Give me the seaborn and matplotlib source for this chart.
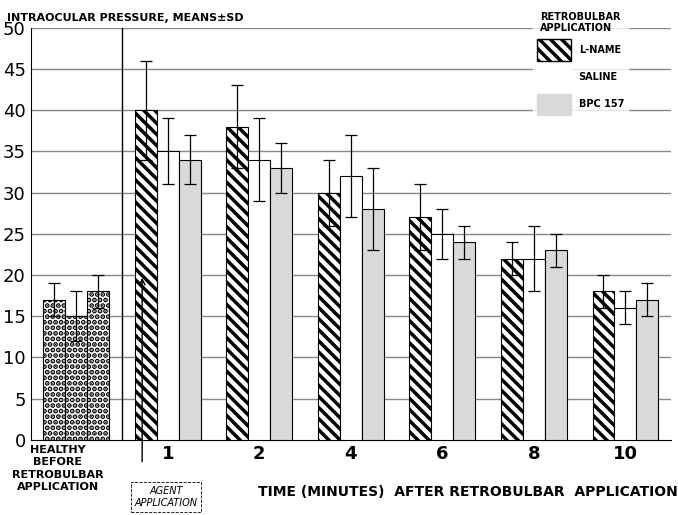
import matplotlib
matplotlib.use("Agg")
import matplotlib.pyplot as plt
import seaborn as sns
import pandas as pd
import numpy as np
from matplotlib.patches import Patch

plt.rcParams["hatch.linewidth"] = 2.5

groups = ["H", "1", "2", "4", "6", "8", "10"]
series = ["L-NAME", "SALINE", "BPC 157"]
lname = [17, 40, 38, 30, 27, 22, 18]
saline = [15, 35, 34, 32, 25, 22, 16]
bpc = [18, 34, 33, 28, 24, 23, 17]
lname_sd = [2, 6, 5, 4, 4, 2, 2]
saline_sd = [3, 4, 5, 5, 3, 4, 2]
bpc_sd = [2, 3, 3, 5, 2, 2, 2]
xticklabels = ["", "1", "2", "4", "6", "8", "10"]

rows = []
for s, vals in zip(series, [lname, saline, bpc]):
    for g, v in zip(groups, vals):
        rows.append(dict(group=g, series=s, value=v))
df = pd.DataFrame(rows)

fig = plt.figure(figsize=(6.78, 5.15), dpi=100)
ax = fig.add_axes([0.045, 0.146, 0.945, 0.8])
sns.barplot(data=df, x="group", y="value", hue="series", order=groups, hue_order=series,
            palette={"L-NAME": "white", "SALINE": "white", "BPC 157": "#d9d9d9"},
            edgecolor="black", linewidth=0.8, width=0.72, errorbar=None, legend=False, ax=ax, zorder=3)

sds = [lname_sd, saline_sd, bpc_sd]
bar_conts = list(ax.containers)
for k, cont in enumerate(bar_conts):
    for i, p in enumerate(cont.patches):
        if i == 0:
            p.set_hatch("...")
            p.set_facecolor("white")
        elif k == 0:
            p.set_hatch("\\\\\\")
        xc = p.get_x() + p.get_width() / 2
        ax.errorbar(xc, p.get_height(), yerr=sds[k][i], color="black", capsize=4,
                    elinewidth=0.9, capthick=0.9, zorder=4)

ax.set_ylim(0, 50)
ax.set_xlim(-0.5, 6.5)
ax.set_yticks(range(0, 51, 5))
ax.tick_params(axis="y", labelsize=13, length=0)
ax.set_xticks(range(7))
ax.set_xticklabels(xticklabels, fontsize=13, fontweight="bold")
ax.tick_params(axis="x", length=0)
for y in range(5, 51, 5):
    ax.axhline(y, color="#888888", lw=1, zorder=1)
for sp in ["top", "right"]:
    ax.spines[sp].set_visible(False)
ax.axvline(0.5, color="black", lw=1)
ax.set_xlabel("")
ax.set_ylabel("")
ax.annotate("", xy=(0.72, 20), xytext=(0.72, -3), xycoords="data",
            arrowprops=dict(arrowstyle="->", color="black", lw=1), annotation_clip=False)
fig.text(0.01, 0.965, "INTRAOCULAR PRESSURE, MEANS±SD", fontsize=8, fontweight="bold", va="center")
fig.text(0.085, 0.09, "HEALTHY\nBEFORE\nRETROBULBAR\nAPPLICATION", fontsize=8, fontweight="bold",
         ha="center", va="center", linespacing=1.3)
fig.text(0.245, 0.035, "AGENT\nAPPLICATION", fontsize=7, fontstyle="italic", ha="center", va="center",
         bbox=dict(boxstyle="square,pad=0.4", fc="white", ec="black", ls="--", lw=0.6))
fig.text(0.69, 0.045, "TIME (MINUTES)  AFTER RETROBULBAR  APPLICATION", fontsize=10,
         fontweight="bold", ha="center", va="center")

handles = [Patch(facecolor="white", edgecolor="black", hatch="\\\\\\"),
           Patch(facecolor="white", edgecolor="white"),
           Patch(facecolor="#d9d9d9", edgecolor="#d9d9d9")]
leg = ax.legend(handles, series, title="RETROBULBAR\nAPPLICATION", loc="upper right",
                bbox_to_anchor=(0.94, 1.06), frameon=True, fontsize=7, title_fontsize=7,
                handlelength=3.5, handleheight=3, labelspacing=0.6, facecolor="white", edgecolor="white")
leg.get_title().set_fontweight("bold")
for t in leg.get_texts():
    t.set_fontweight("bold")
leg.set_zorder(5)
fig.savefig("out.png", dpi=100)
